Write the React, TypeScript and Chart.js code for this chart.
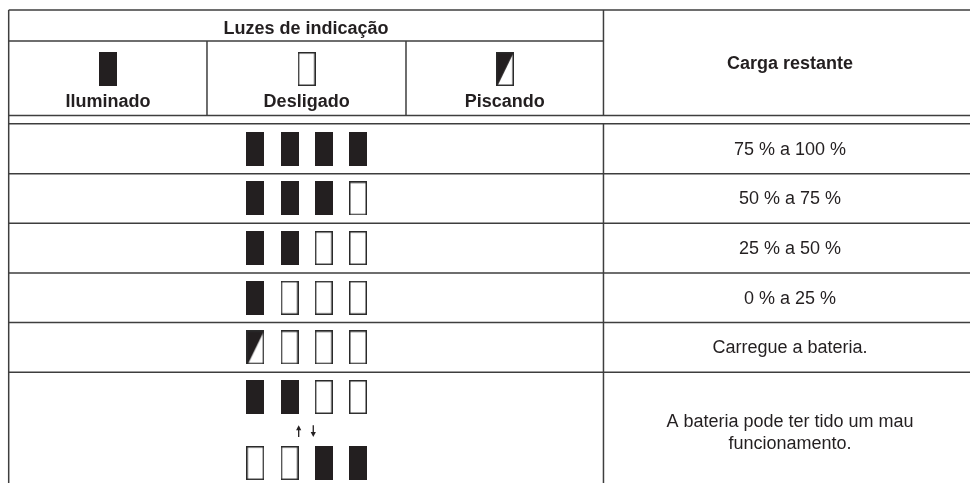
import React, { useEffect, useRef } from "react";
import { Chart, registerables } from "chart.js";

Chart.register(...registerables);

// ---------- data ----------
const headerTitle = "Luzes de indicação";
const legendLabels = ["Iluminado", "Desligado", "Piscando"];
const legendStates = ["on", "off", "blink"];
const chargeHeader = "Carga restante";

const rowStates = [
  ["on", "on", "on", "on"],
  ["on", "on", "on", "off"],
  ["on", "on", "off", "off"],
  ["on", "off", "off", "off"],
  ["blink", "off", "off", "off"],
  ["on", "on", "off", "off"],
];
// alternate pattern shown under the last row
const altRowStates = ["off", "off", "on", "on"];

const chargeLabels = [
  "75 % a 100 %",
  "50 % a 75 %",
  "25 % a 50 %",
  "0 % a 25 %",
  "Carregue a bateria.",
  "A bateria pode ter tido um mau\nfuncionamento.",
];

// ---------- layout in scale units ----------
// x unit = one indicator light slot, y unit = one table row
const X_MIN = -7.458;
const X_MAX = 20.88;
const Y_MIN = -2.997;
const Y_MAX = 6.731;

const X_LEFT = -7.204;
const X_COL1 = -1.411;
const X_COL2 = 4.403;
const X_MAIN = 10.172;
const X_CHARGE = 15.621;
const LEGEND_X = [-4.3, 1.5, 7.29];
const LIGHTS_CENTER = 1.484;

const Y_TOP = -2.7956;
const Y_HEAD = -2.1712;
const Y_SUB = -0.6707;
const Y_DOUBLE = -0.5055;
const Y_LEGEND_ICON = -1.607;
const Y_LEGEND_TEXT = -0.835;
const Y_TITLE_TEXT = -2.312;
const Y_CHARGE_HEAD = -1.698;
const ALT_ROW_Y = 6.33;
const ARROW_Y = [5.567, 5.803];
const ARROW_X = [1.268, 1.694];

const INK = "#231f20";
const LINE = "#3e3e3e";
const FONT = '"Liberation Sans", Arial, Helvetica, sans-serif';

function makeIcon(state: string): HTMLCanvasElement {
  const c = document.createElement("canvas");
  c.width = 18;
  c.height = 34;
  const g = c.getContext("2d")!;
  if (state === "on") {
    g.fillStyle = INK;
    g.fillRect(0, 0, 18, 34);
  } else {
    g.fillStyle = "#ffffff";
    g.fillRect(0, 0, 18, 34);
    if (state === "blink") {
      g.fillStyle = INK;
      g.beginPath();
      g.moveTo(0, 0);
      g.lineTo(18, 0);
      g.lineTo(1.5, 34);
      g.lineTo(0, 34);
      g.closePath();
      g.fill();
    }
    g.strokeStyle = "#2a2a2a";
    g.lineWidth = 1.5;
    g.strokeRect(0.75, 0.75, 16.5, 32.5);
  }
  return c;
}

const tablePlugin = {
  id: "tableGrid",
  beforeDatasetsDraw(chart: any) {
    const { ctx } = chart;
    const xs = chart.scales.x;
    const ys = chart.scales.y;
    const px = (v: number) => xs.getPixelForValue(v);
    const py = (v: number) => ys.getPixelForValue(v);
    ctx.save();
    ctx.fillStyle = "#ffffff";
    ctx.fillRect(0, 0, chart.width, chart.height);
    ctx.strokeStyle = LINE;
    ctx.lineWidth = 1.5;
    const h = (y: number, x0: number, x1: number) => {
      ctx.beginPath();
      ctx.moveTo(px(x0), py(y));
      ctx.lineTo(px(x1), py(y));
      ctx.stroke();
    };
    const v = (x: number, y0: number, y1: number) => {
      ctx.beginPath();
      ctx.moveTo(px(x), py(y0));
      ctx.lineTo(px(x), py(y1));
      ctx.stroke();
    };
    h(Y_TOP, X_LEFT, X_MAX);
    h(Y_HEAD, X_LEFT, X_MAIN);
    h(Y_SUB, X_LEFT, X_MAX);
    h(Y_DOUBLE, X_LEFT, X_MAX);
    for (let i = 0; i < rowStates.length - 1; i++) h(i + 0.5, X_LEFT, X_MAX);
    v(X_LEFT, Y_TOP, Y_MAX);
    v(X_COL1, Y_HEAD, Y_SUB);
    v(X_COL2, Y_HEAD, Y_SUB);
    v(X_MAIN, Y_TOP, Y_SUB);
    v(X_MAIN, Y_DOUBLE, Y_MAX);
    ctx.restore();
  },
  afterDatasetsDraw(chart: any) {
    const { ctx } = chart;
    const xs = chart.scales.x;
    const ys = chart.scales.y;
    const px = (v: number) => xs.getPixelForValue(v);
    const py = (v: number) => ys.getPixelForValue(v);
    ctx.save();
    ctx.fillStyle = INK;
    ctx.textAlign = "center";

    ctx.font = `bold 18px ${FONT}`;
    ctx.textBaseline = "alphabetic";
    ctx.fillText(headerTitle, px(LIGHTS_CENTER), py(Y_TITLE_TEXT));
    legendLabels.forEach((t, i) => ctx.fillText(t, px(LEGEND_X[i]), py(Y_LEGEND_TEXT)));
    ctx.textBaseline = "middle";
    ctx.fillText(chargeHeader, px(X_CHARGE), py(Y_CHARGE_HEAD));

    ctx.font = `18px ${FONT}`;
    const rowCount = rowStates.length;
    chargeLabels.forEach((label, i) => {
      const lines = label.split("\n");
      const center = i === rowCount - 1 ? (i + ALT_ROW_Y) / 2 + 0.055 : i + 0.02;
      const lh = 22 / (py(1) - py(0));
      lines.forEach((ln, k) => {
        const y = center + (k - (lines.length - 1) / 2) * lh;
        ctx.fillText(ln, px(X_CHARGE), py(y));
      });
    });

    // alternation arrows
    ctx.strokeStyle = INK;
    ctx.lineWidth = 1.3;
    const drawArrow = (x: number, up: boolean) => {
      const X = px(x);
      const yTop = py(ARROW_Y[0]);
      const yBot = py(ARROW_Y[1]);
      const tip = up ? yTop : yBot;
      const dir = up ? 1 : -1;
      ctx.beginPath();
      ctx.moveTo(X, up ? yTop + 4 : yTop);
      ctx.lineTo(X, up ? yBot : yBot - 4);
      ctx.stroke();
      ctx.beginPath();
      ctx.moveTo(X, tip);
      ctx.lineTo(X - 2.6, tip + dir * 5);
      ctx.lineTo(X + 2.6, tip + dir * 5);
      ctx.closePath();
      ctx.fill();
    };
    drawArrow(ARROW_X[0], true);
    drawArrow(ARROW_X[1], false);
    ctx.restore();
  },
};

export default function App() {
  const ref = useRef<HTMLCanvasElement | null>(null);
  useEffect(() => {
    if (!ref.current) return;
    const icons: Record<string, HTMLCanvasElement> = {
      on: makeIcon("on"),
      off: makeIcon("off"),
      blink: makeIcon("blink"),
    };
    const lightPoints: any[] = [];
    rowStates.forEach((states, r) =>
      states.forEach((s, k) => lightPoints.push({ x: k, y: r, state: s }))
    );
    altRowStates.forEach((s, k) => lightPoints.push({ x: k, y: ALT_ROW_Y, state: s }));
    const legendPoints = legendStates.map((s, i) => ({ x: LEGEND_X[i], y: Y_LEGEND_ICON, state: s }));

    const chart = new Chart(ref.current, {
      type: "scatter",
      data: {
        datasets: [
          {
            label: "legend",
            data: legendPoints,
            pointStyle: (c: any) => icons[c.raw?.state ?? "off"],
            pointRadius: 1,
            clip: false,
          },
          {
            label: "lights",
            data: lightPoints,
            pointStyle: (c: any) => icons[c.raw?.state ?? "off"],
            pointRadius: 1,
            clip: false,
          },
        ],
      } as any,
      options: {
        animation: false,
        responsive: false,
        maintainAspectRatio: false,
        events: [],
        layout: { padding: 0, autoPadding: false },
        plugins: { legend: { display: false }, tooltip: { enabled: false } },
        scales: {
          x: { type: "linear", min: X_MIN, max: X_MAX, display: false },
          y: { type: "linear", min: Y_MIN, max: Y_MAX, reverse: true, display: false },
        },
      } as any,
      plugins: [tablePlugin],
    });
    return () => chart.destroy();
  }, []);
  return (
    <div style={{ position: "absolute", left: 0, top: 0, width: 970, height: 483, background: "#fff" }}>
      <canvas ref={ref} width={970} height={483} style={{ display: "block" }} />
    </div>
  );
}
